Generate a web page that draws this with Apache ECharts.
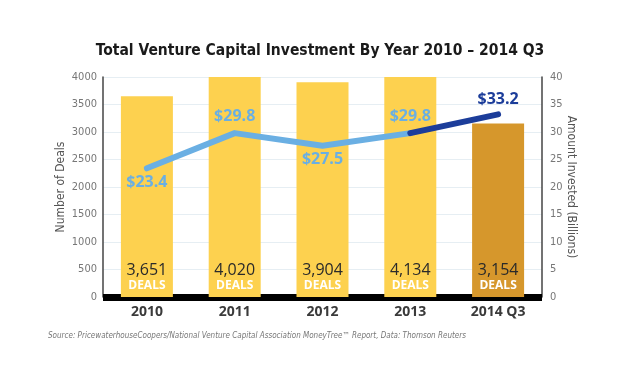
<!DOCTYPE html>
<html><head><meta charset="utf-8">
<script src="https://cdn.jsdelivr.net/npm/echarts@6/dist/echarts.min.js"></script>
<style>html,body{margin:0;padding:0;background:#fff}#c{width:640px;height:374px}</style>
</head><body><div id="c"></div>
<script>
const categories = ['2010', '2011', '2012', '2013', '2014 Q3'];
const deals = [3651, 4020, 3904, 4134, 3154];
const amounts = [23.4, 29.8, 27.5, 29.8, 33.2];
const amountLabelPos = ['bottom', 'top', 'bottom', 'top', 'top'];
const leftTicks = [0, 500, 1000, 1500, 2000, 2500, 3000, 3500, 4000];
const rightTicks = [0, 5, 10, 15, 20, 25, 30, 35, 40];

const narrow = '"Liberation Sans Narrow", "DejaVu Sans Condensed", Roboto, sans-serif';
const barColor = '#fdd14f', lastBarColor = '#d6972c';
const lightBlue = '#6aafe3', darkBlue = '#1c3d9a';

const chart = echarts.init(document.getElementById('c'), null, {renderer: 'canvas'});
const fmt = n => n.toLocaleString('en-US');

const barData = deals.map((v, i) => ({
  value: v,
  itemStyle: {color: i === deals.length - 1 ? lastBarColor : barColor}
}));
const lastIdx = amounts.length - 1;
const lightData = amounts.map((v, i) => i < lastIdx ? {
  value: v,
  label: {show: true, position: amountLabelPos[i], distance: i === 0 || i === 2 ? 5 : 8}
} : null);
const darkData = amounts.map((v, i) => i >= lastIdx - 1 ? {
  value: v,
  label: {show: i === lastIdx, position: amountLabelPos[i], distance: 6}
} : null);

chart.setOption({
  animation: false,
  title: {
    text: 'Total Venture Capital Investment By Year 2010 – 2014 Q3',
    left: 'center', top: 38,
    textStyle: {fontFamily: narrow, fontWeight: 'bold', fontSize: 15.5, color: '#1a1a1a'}
  },
  graphic: [{
    type: 'text', left: 48, top: 332,
    style: {
      text: 'Source: PricewaterhouseCoopers/National Venture Capital Association MoneyTree™ Report, Data: Thomson Reuters',
      font: 'italic 8px ' + narrow, fill: '#777'
    }
  }],
  grid: {left: 103, right: 98, top: 77, bottom: 77},
  xAxis: {
    type: 'category', data: categories,
    axisLine: {lineStyle: {color: '#000', width: 7, cap: 'butt'}},
    axisTick: {show: false},
    axisLabel: {fontFamily: 'Open Sans, sans-serif', fontWeight: 'bold', fontSize: 14, color: '#3a3a3a', margin: 8}
  },
  yAxis: [{
    type: 'value', min: 0, max: 4000, interval: 500,
    name: 'Number of Deals', nameLocation: 'middle', nameGap: 36, nameRotate: 90, nameMoveOverlap: false,
    nameTextStyle: {fontFamily: narrow, fontSize: 12, color: '#555'},
    axisLine: {show: true, lineStyle: {color: '#444', width: 1.5}},
    axisTick: {show: false},
    axisLabel: {fontFamily: narrow, fontSize: 11, color: '#777', margin: 6,
      formatter: v => leftTicks.includes(v) ? String(v) : ''},
    splitLine: {lineStyle: {color: '#e6eef3', width: 1}}
  }, {
    type: 'value', min: 0, max: 40, interval: 5, position: 'right',
    name: 'Amount Invested (Billions)', nameLocation: 'middle', nameGap: 23, nameRotate: -90, nameMoveOverlap: false,
    nameTextStyle: {fontFamily: narrow, fontSize: 12, color: '#555'},
    axisLine: {show: true, lineStyle: {color: '#444', width: 1.5}},
    axisTick: {show: false},
    axisLabel: {fontFamily: narrow, fontSize: 11, color: '#777', margin: 8,
      formatter: v => rightTicks.includes(v) ? String(v) : ''},
    splitLine: {show: false}
  }],
  series: [{
    type: 'bar', data: barData, barWidth: 52, yAxisIndex: 0, z: 1,
    label: {
      show: true, position: 'insideBottom', distance: 4,
      formatter: p => '{n|' + fmt(p.value) + '}\n{d|DEALS}',
      rich: {
        n: {fontFamily: 'Open Sans, sans-serif', fontSize: 16, color: '#2a2a2a', lineHeight: 17},
        d: {fontFamily: 'Open Sans, sans-serif', fontSize: 12, fontWeight: 'bold', color: '#fff', lineHeight: 14}
      }
    }
  }, {
    type: 'line', yAxisIndex: 1, data: lightData, symbol: 'circle', symbolSize: 2, showSymbol: true, z: 3,
    itemStyle: {color: lightBlue},
    lineStyle: {color: lightBlue, width: 6, cap: 'round', join: 'round'},
    label: {show: true, fontFamily: 'Open Sans, sans-serif', fontWeight: 'bold', fontSize: 16, color: lightBlue,
      formatter: p => '$' + p.value.toFixed(1)}
  }, {
    type: 'line', yAxisIndex: 1, data: darkData, symbol: 'circle', symbolSize: 2, showSymbol: true, z: 4,
    itemStyle: {color: darkBlue},
    lineStyle: {color: darkBlue, width: 6, cap: 'round', join: 'round'},
    label: {fontFamily: 'Open Sans, sans-serif', fontWeight: 'bold', fontSize: 16, color: darkBlue,
      formatter: p => '$' + p.value.toFixed(1)}
  }]
});
</script></body></html>
